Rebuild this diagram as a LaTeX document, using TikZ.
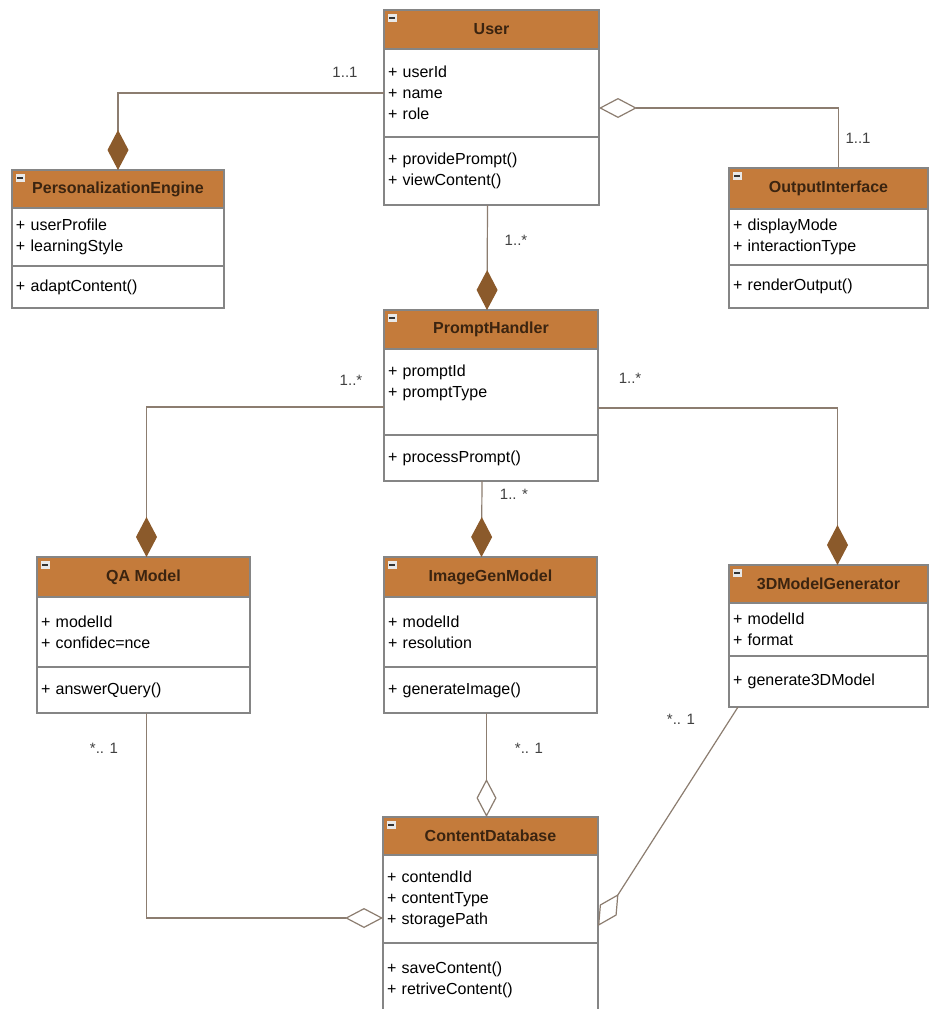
\documentclass[tikz,border=0pt]{standalone}
\usepackage{fontspec}
\setmainfont{Liberation Sans}
\usetikzlibrary{positioning,arrows.meta}
\definecolor{HeadOrange}{HTML}{C47B3B}
\definecolor{HeadText}{HTML}{3B2410}
\definecolor{BoxGray}{HTML}{858585}
\definecolor{LinkGray}{HTML}{8C7D70}
\definecolor{DiamondBrown}{HTML}{8B5A2B}
\definecolor{IconGray}{HTML}{E8E8E8}

\tikzset{
  classhead/.style={draw=BoxGray,line width=1.2pt,fill=HeadOrange,outer sep=0pt,
          inner sep=0pt,text=HeadText,font=\fontsize{16}{19}\selectfont\bfseries},
  classsec/.style={draw=BoxGray,line width=1.2pt,fill=white,outer sep=0pt,
          inner xsep=4pt,inner ysep=0pt,align=left,font=\fontsize{16}{21}\selectfont},
  minusbox/.style={rectangle,fill=IconGray,minimum width=9pt,minimum height=8pt,inner sep=0pt,
          path picture={\draw[black!80,line width=1.4pt] ([xshift=1.5pt]path picture bounding box.west)
          -- ([xshift=-1.5pt]path picture bounding box.east);}},
  link/.style={draw=LinkGray,line width=1.2pt},
  compose/.style={-{Diamond[length=40pt,width=21pt,fill=DiamondBrown,color=DiamondBrown]}},
  aggregate/.style={-{Diamond[open,length=38pt,width=20pt]}},
  mult/.style={font=\fontsize{15}{17}\selectfont,text=black!75}
}

\begin{document}
\begin{tikzpicture}[x=1pt,y=-1pt]
    \useasboundingbox (0,0) rectangle (930,1009);
    \fill[white] (0,0) rectangle (930,1009);

    % classes
    \node[classhead,minimum width=215pt,minimum height=39pt] (userhead) at (491.5,29.5) {User};
    \node[classsec,text width=207pt,minimum height=88pt,below=0pt of userhead] (userattr)
          {+ userId\\+ name\\+ role};
    \node[classsec,text width=207pt,minimum height=68pt,below=0pt of userattr] (usermeth)
          {+ providePrompt()\\+ viewContent()};

    \node[classhead,minimum width=212pt,minimum height=38pt] (pehead) at (118,189) {PersonalizationEngine};
    \node[classsec,text width=204pt,minimum height=58pt,below=0pt of pehead] (peattr)
          {+ userProfile\\+ learningStyle};
    \node[classsec,text width=204pt,minimum height=42pt,below=0pt of peattr] (pemeth)
          {+ adaptContent()};

    \node[classhead,minimum width=199pt,minimum height=41pt] (oihead) at (828.5,188.5) {OutputInterface};
    \node[classsec,text width=191pt,minimum height=56pt,below=0pt of oihead] (oiattr)
          {+ displayMode\\+ interactionType};
    \node[classsec,text width=191pt,minimum height=43pt,below=0pt of oiattr] (oimeth)
          {+ renderOutput()};

    \node[classhead,minimum width=214pt,minimum height=39pt] (phhead) at (491,329.5) {PromptHandler};
    \node[classsec,text width=206pt,minimum height=86pt,below=0pt of phhead] (phattr)
          {+ promptId\\+ promptType\\\mbox{}};
    \node[classsec,text width=206pt,minimum height=46pt,below=0pt of phattr] (phmeth)
          {+ processPrompt()};

    \node[classhead,minimum width=213pt,minimum height=40pt] (qahead) at (143.5,577) {QA Model};
    \node[classsec,text width=205pt,minimum height=70pt,below=0pt of qahead] (qaattr)
          {+ modelId\\+ confidec=nce};
    \node[classsec,text width=205pt,minimum height=46pt,below=0pt of qaattr] (qameth)
          {+ answerQuery()};

    \node[classhead,minimum width=213pt,minimum height=40pt] (imghead) at (490.5,577) {ImageGenModel};
    \node[classsec,text width=205pt,minimum height=70pt,below=0pt of imghead] (imgattr)
          {+ modelId\\+ resolution};
    \node[classsec,text width=205pt,minimum height=46pt,below=0pt of imgattr] (imgmeth)
          {+ generateImage()};

    \node[classhead,minimum width=199pt,minimum height=38pt] (gen3dhead) at (828.5,584) {3DModelGenerator};
    \node[classsec,text width=191pt,minimum height=53pt,below=0pt of gen3dhead] (gen3dattr)
          {+ modelId\\+ format};
    \node[classsec,text width=191pt,minimum height=51pt,below=0pt of gen3dattr] (gen3dmeth)
          {+ generate3DModel};

    \node[classhead,minimum width=215pt,minimum height=38pt] (cdhead) at (490.5,836) {ContentDatabase};
    \node[classsec,text width=207pt,minimum height=88pt,below=0pt of cdhead] (cdattr)
          {+ contendId\\+ contentType\\+ storagePath};
    \node[classsec,text width=207pt,minimum height=74pt,below=0pt of cdattr] (cdmeth)
          {+ saveContent()\\+ retriveContent()};

    \foreach \c in {userhead,pehead,oihead,phhead,qahead,imghead,gen3dhead,cdhead}
      \node[minusbox] (\c icon) at ([xshift=8pt,yshift=-8pt]\c.north west) {};

    % associations
    \draw[link,compose] (userattr.west) -| (pehead.north);
    \draw[link,aggregate] ([xshift=10pt]oihead.north) |- ([yshift=-15pt]userattr.east);
    \draw[link,compose] ([xshift=-4pt]usermeth.south) -- ([xshift=-4pt]phhead.north);
    \draw[link,compose] ([yshift=-15pt]phattr.west) -| ([xshift=3pt]qahead.north);
    \draw[link,compose] ([yshift=-16pt]phattr.east) -| ([xshift=9pt]gen3dhead.north);
    \draw[link,compose] ([xshift=-9pt]phmeth.south) -- ([xshift=-9pt]imghead.north);
    \draw[link,aggregate] ([xshift=-4pt]imgmeth.south) -- ([xshift=-4pt]cdhead.north);
    \draw[link,aggregate] ([xshift=3pt]qameth.south) |- ([yshift=-19pt]cdattr.west);
    \draw[link,aggregate] ([xshift=9pt]gen3dmeth.south west) -- ([yshift=-27pt]cdattr.east);

    % multiplicities
    \node[mult] (multuserpe) at (345,72) {1..1};
    \node[mult] (multuseroi) at (858,138) {1..1};
    \node[mult] (multuserph) at (516,240) {1..*};
    \node[mult] (multphqa) at (351,380) {1..*};
    \node[mult] (multphgen) at (630,378) {1..*};
    \node[mult] (multphimg) at (514,494) {1.. *};
    \node[mult] (multimgcd) at (529,748) {*.. 1};
    \node[mult] (multqacd) at (104,748) {*.. 1};
    \node[mult] (multgencd) at (681,719) {*.. 1};
  \end{tikzpicture}
\end{document}
